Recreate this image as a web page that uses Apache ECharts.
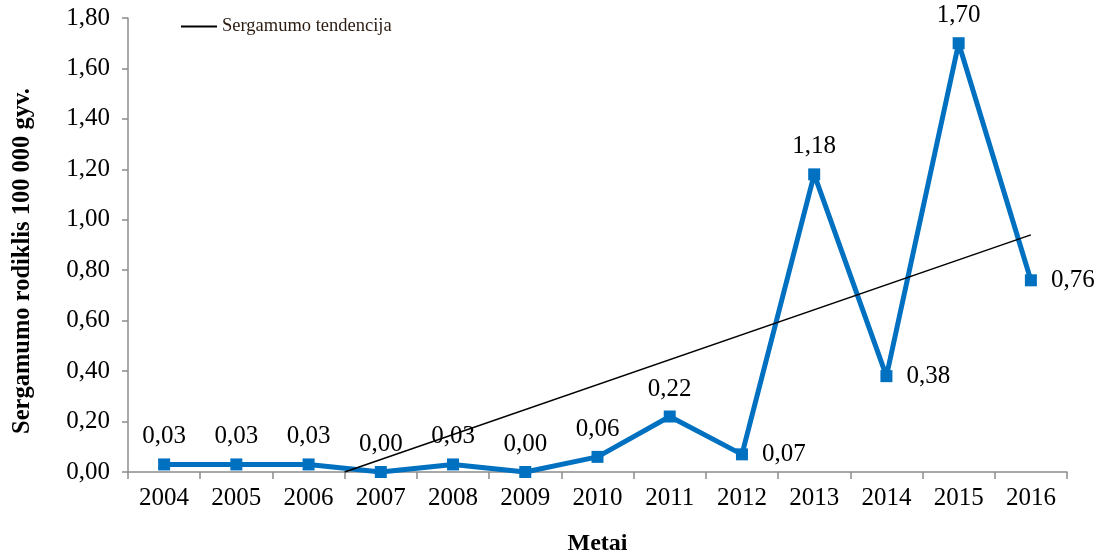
<!DOCTYPE html>
<html>
<head>
<meta charset="utf-8">
<script src="https://cdn.jsdelivr.net/npm/echarts@6/dist/echarts.min.js"></script>
<style>
html, body { margin: 0; padding: 0; background: #fff; }
#chart1 { width: 1104px; height: 552px; }
</style>
</head>
<body>
<div id="chart1"></div>
<script>
var years = ["2004", "2005", "2006", "2007", "2008", "2009", "2010", "2011", "2012", "2013", "2014", "2015", "2016"]
var rates = [0.03, 0.03, 0.03, 0.00, 0.03, 0.00, 0.06, 0.22, 0.07, 1.18, 0.38, 1.70, 0.76]
// trend line ends (x = category index)
var trendX = [2.5, 12]
var trendY = [0.00, 0.94]
// which points carry their label on the right instead of on top
var rightLabels = ["2012", "2014", "2016"]
var yTitle = "Sergamumo rodiklis 100 000 gyv."

var font = "'Liberation Serif', 'Times New Roman', serif"
var axisGrey = "#8c8c8c"

var chart1 = echarts.init(document.querySelector("#chart1"))

var fmt = function (v) { return Number(v).toFixed(2).replace(".", ",") }

var lineData = rates.map(function (v, i) {
    var item = { value: v }
    if (rightLabels.indexOf(years[i]) >= 0) {
        item.label = { position: "right", distance: 14 }
    }
    return item
})

var option = {
    animation: false,
    textStyle: { fontFamily: font },
    grid: { left: 128, right: 37, top: 18, bottom: 80, containLabel: false, outerBoundsMode: "none" },
    legend: {
        left: 176,
        top: 12,
        itemWidth: 36,
        itemHeight: 2,
        itemGap: 2,
        data: [{ name: "Sergamumo tendencija", icon: "rect" }],
        textStyle: { fontFamily: font, fontSize: 18.5, color: "#2a1a10" }
    },
    graphic: [{
        type: "text",
        x: 23,
        y: 261,
        rotation: Math.PI / 2,
        style: {
            text: yTitle,
            align: "center",
            verticalAlign: "middle",
            font: "bold 24.5px " + font,
            fill: "#000"
        }
    }],
    xAxis: [{
        type: "category",
        data: years,
        name: "Metai",
        nameLocation: "middle",
        nameGap: 60,
        nameTextStyle: { fontFamily: font, fontSize: 24, fontWeight: "bold", color: "#000" },
        axisLine: { lineStyle: { color: axisGrey, width: 1.5 } },
        axisTick: { show: true, length: 7, lineStyle: { color: axisGrey, width: 1.5 } },
        axisLabel: { fontFamily: font, fontSize: 25, color: "#000", margin: 14 },
        splitLine: { show: false }
    }, {
        type: "value",
        min: -0.5,
        max: 12.5,
        show: false
    }],
    yAxis: {
        type: "value",
        min: 0,
        max: 1.8,
        interval: 0.2,
        axisLine: { show: true, onZero: false, lineStyle: { color: axisGrey, width: 1.5 } },
        axisTick: { show: true, length: 6, lineStyle: { color: axisGrey, width: 1.5 } },
        axisLabel: { fontFamily: font, fontSize: 25, color: "#000", margin: 18, formatter: fmt },
        splitLine: { show: false }
    },
    series: [{
        name: "Sergamumo rodiklis",
        type: "line",
        data: lineData,
        symbol: "rect",
        symbolSize: 12,
        lineStyle: { color: "#0070C0", width: 5 },
        itemStyle: { color: "#0070C0" },
        label: {
            show: true,
            position: "top",
            distance: 9,
            fontFamily: font,
            fontSize: 25,
            color: "#000",
            formatter: function (p) { return fmt(p.value) }
        },
        z: 2
    }, {
        name: "Sergamumo tendencija",
        type: "line",
        xAxisIndex: 1,
        data: trendX.map(function (x, i) { return [x, trendY[i]] }),
        symbol: "none",
        lineStyle: { color: "#000", width: 1.5 },
        itemStyle: { color: "#000" },
        z: 3
    }]
}

chart1.setOption(option)
</script>
</body>
</html>
